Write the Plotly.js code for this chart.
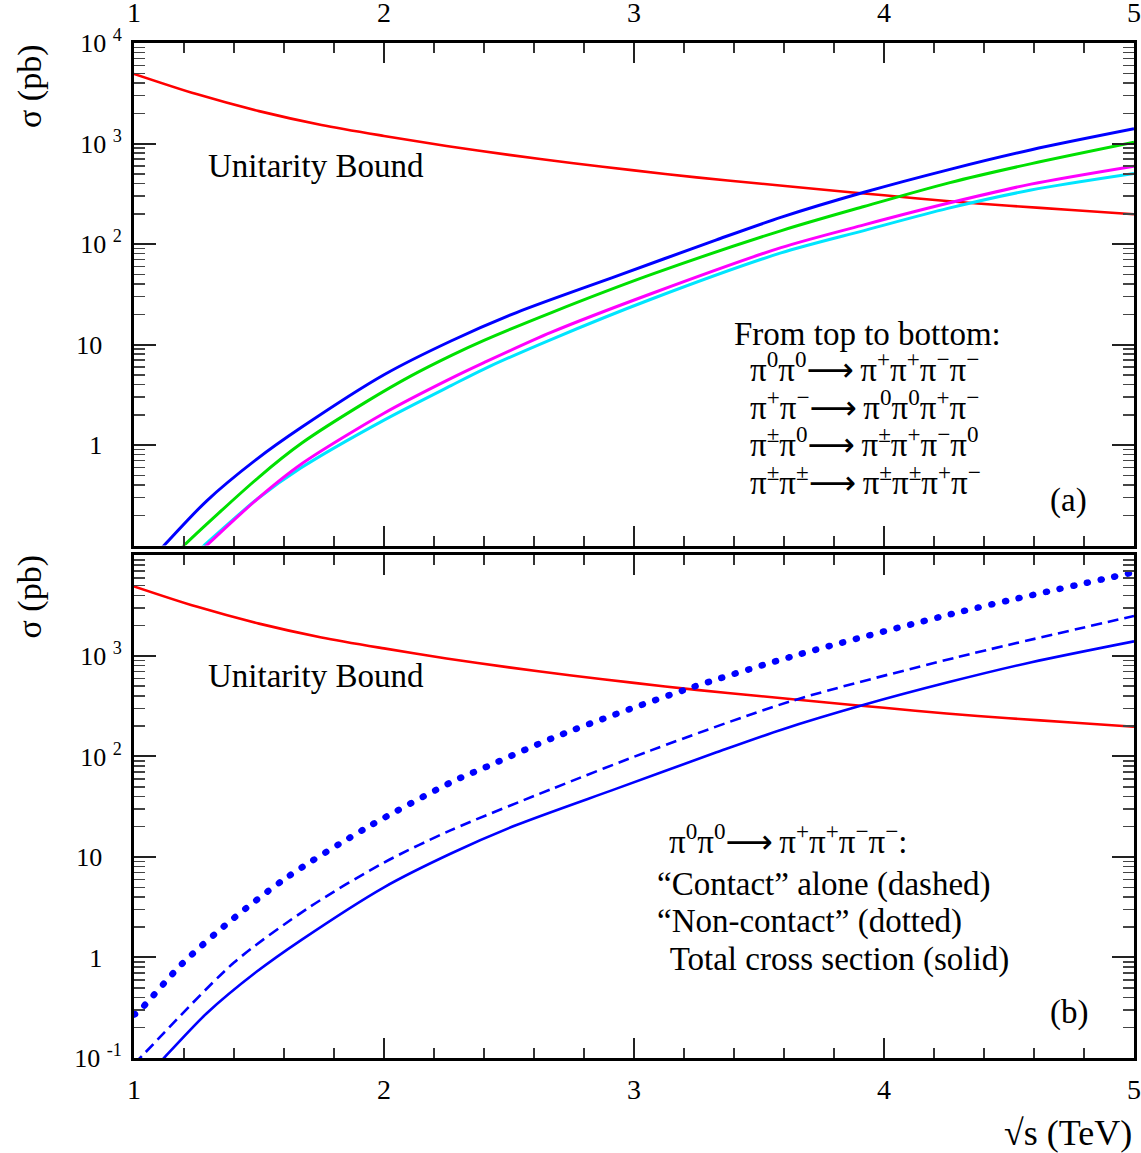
<!DOCTYPE html>
<html>
<head>
<meta charset="utf-8">
<script src="https://cdn.plot.ly/plotly-3.0.1.min.js"></script>
<style>
  html, body { margin: 0; padding: 0; background: #fff; }
  #chart { width: 1141px; height: 1153px; }
  .tracedotted path.js-line { stroke-linecap: round; }
</style>
</head>
<body>
<div id="chart"></div>
<script>
// ---------- DATA ----------
// Unitarity bound (red), same in both panels
const unitX = [1.0, 1.25, 1.5, 1.75, 2.0, 2.25, 2.5, 2.75, 3.0, 3.25, 3.5, 3.75, 4.0, 4.25, 4.5, 4.75, 5.0];
const unitY = [4930, 3100, 2100, 1530, 1190, 945, 770, 640, 540, 460, 400, 348, 305, 268, 240, 218, 198];

// pi0 pi0 -> pi+ pi+ pi- pi-  (blue, total cross section)
const pp00X = [1.08, 1.12, 1.29, 1.49, 1.67, 2.0, 2.27, 2.53, 2.93, 3.33, 3.59, 3.92, 4.26, 4.59, 5.0];
const pp00Y = [0.078, 0.1, 0.277, 0.72, 1.5, 5.0, 10.9, 20.8, 47.9, 110, 185, 327, 550, 867, 1400];

// pi+ pi- -> pi0 pi0 pi+ pi-  (green)
const pmX = [1.16, 1.2, 1.5, 1.67, 1.93, 2.11, 2.27, 2.4, 2.67, 3.07, 3.59, 3.92, 4.26, 4.59, 5.0];
const pmY = [0.078, 0.1, 0.48, 1.04, 2.7, 4.9, 7.8, 11.0, 20.8, 49.8, 136, 236, 406, 631, 1030];

// pi+- pi0 -> pi+- pi+ pi- pi0  (magenta)
const pm0X = [1.27, 1.29, 1.493, 1.667, 2.0, 2.268, 2.4, 2.668, 3.068, 3.588, 3.92, 4.255, 4.588, 5.0];
const pm0Y = [0.09, 0.1, 0.29, 0.64, 2.07, 4.6, 6.6, 13.2, 32, 92, 155, 254, 394, 595];

// pi+- pi+- -> pi+- pi+- pi+ pi-  (cyan)
const pmpmX = [1.26, 1.28, 1.493, 1.667, 2.0, 2.268, 2.4, 2.668, 3.068, 3.588, 3.92, 4.255, 4.588, 5.0];
const pmpmY = [0.09, 0.1, 0.29, 0.59, 1.77, 3.9, 5.7, 11.2, 28.2, 81.5, 136, 226, 344, 502];

// Panel (b): "Contact" alone (dashed)
const contactX = [1.0, 1.04, 1.4, 1.707, 2.0, 2.268, 2.668, 3.068, 3.628, 4.295, 5.0];
const contactY = [0.087, 0.11, 0.89, 3.23, 8.8, 18.5, 47.2, 115, 355, 975, 2500];

// Panel (b): "Non-contact" (dotted)
const nonContactX = [1.0, 1.016, 1.193, 1.397, 1.613, 1.94, 2.281, 2.384, 2.695, 3.221, 3.653, 4.308, 5.0];
const nonContactY = [0.27, 0.286, 0.87, 2.44, 6.3, 20.2, 57.4, 74, 160, 477, 1023, 2760, 6800];

// Tick labels
const xTickVals = [1, 2, 3, 4, 5];
const xTickText = ['1', '2', '3', '4', '5'];
const yTopTickVals = [1, 10, 100, 1000, 10000];
const yTopTickText = ['1\u2002\u2005', '10\u2002\u2005', '10 <sup>2</sup>', '10 <sup>3</sup>', '10 <sup>4</sup>'];
const yBotTickVals = [0.1, 1, 10, 100, 1000];
const yBotTickText = ['10 <sup>-1</sup>', '1\u2002\u2005', '10\u2002\u2005', '10 <sup>2</sup>', '10 <sup>3</sup>'];

// Texts
const yTitle = 'σ (pb)';
const xTitle = '√s (TeV)';
const unitLabel = 'Unitarity Bound';
const ARROW = '<span style="font-family:DejaVu Sans">⟶</span>\u2009';
const legendHeadA = 'From top to bottom:';
const legendLinesA = [
  'π<sup>0</sup>π<sup>0</sup>' + ARROW + 'π<sup>+</sup>π<sup>+</sup>π<sup>−</sup>π<sup>−</sup>',
  'π<sup>+</sup>π<sup>−</sup>' + ARROW + 'π<sup>0</sup>π<sup>0</sup>π<sup>+</sup>π<sup>−</sup>',
  'π<sup>±</sup>π<sup>0</sup>' + ARROW + 'π<sup>±</sup>π<sup>+</sup>π<sup>−</sup>π<sup>0</sup>',
  'π<sup>±</sup>π<sup>±</sup>' + ARROW + 'π<sup>±</sup>π<sup>±</sup>π<sup>+</sup>π<sup>−</sup>'
];
const legendLinesB = [
  'π<sup>0</sup>π<sup>0</sup>' + ARROW + 'π<sup>+</sup>π<sup>+</sup>π<sup>−</sup>π<sup>−</sup>:',
  '“Contact” alone (dashed)',
  '“Non-contact” (dotted)',
  ' Total cross section (solid)'
];

// ---------- helpers ----------
const minorY = [];
for (let e = -1; e < 4; e++) {
  for (let m = 2; m <= 9; m++) minorY.push(m * Math.pow(10, e));
}
const FONT = 'Liberation Serif, Times New Roman, serif';
const SMOOTH = 0.8;

function line(x, y, color, width, xa, ya, extra) {
  return Object.assign({
    type: 'scatter', mode: 'lines', x: x, y: y, xaxis: xa, yaxis: ya,
    line: Object.assign({color: color, width: width, shape: 'spline', smoothing: SMOOTH}, extra && extra.lineExtra || {}),
    hoverinfo: 'skip'
  }, extra && extra.uid ? {uid: extra.uid} : {});
}

const traces = [
  line(unitX, unitY, '#ff0000', 2.6, 'x', 'y'),
  line(pmpmX, pmpmY, '#00e5ff', 3, 'x', 'y'),
  line(pm0X, pm0Y, '#ff00ff', 3, 'x', 'y'),
  line(pmX, pmY, '#00e000', 3, 'x', 'y'),
  line(pp00X, pp00Y, '#0000ff', 3, 'x', 'y'),
  line(unitX, unitY, '#ff0000', 2.6, 'x2', 'y2'),
  line(pp00X, pp00Y, '#0000ff', 2.6, 'x2', 'y2'),
  line(contactX, contactY, '#0000ff', 2.6, 'x2', 'y2', {lineExtra: {dash: '11px,6px'}}),
  line(nonContactX, nonContactY, '#0000ff', 6.5, 'x2', 'y2', {uid: 'dotted', lineExtra: {dash: '1px,13px'}})
];

const xCommon = {
  range: [1, 5], tickmode: 'array', tickvals: xTickVals, ticktext: xTickText,
  ticks: 'inside', ticklen: 20, tickwidth: 2, tickcolor: '#222',
  minor: {tickmode: 'linear', tick0: 1, dtick: 0.2, ticks: 'inside', ticklen: 10, tickwidth: 1.5, tickcolor: '#333', showgrid: false},
  showline: true, linewidth: 3, linecolor: '#000', mirror: 'ticks',
  showgrid: false, zeroline: false,
  tickfont: {family: FONT, size: 28, color: '#000'}
};
const yCommon = {
  type: 'log', range: [-1, 4], tickmode: 'array',
  ticks: 'inside', ticklen: 22, tickwidth: 2, tickcolor: '#222',
  minor: {tickmode: 'array', tickvals: minorY, ticks: 'inside', ticklen: 11, tickwidth: 1.5, tickcolor: '#444', showgrid: false},
  showline: true, linewidth: 3, linecolor: '#000', mirror: 'ticks',
  showgrid: false, zeroline: false,
  ticklabelstandoff: 4,
  tickfont: {family: FONT, size: 26, color: '#000'}
};

function P(px) { return (px - 134) / 1000; }
function Q(py) { return (1058 - py) / 1016; }

const annotations = [];
function ann(text, px, py, opts) {
  annotations.push(Object.assign({
    text: text, xref: 'paper', yref: 'paper', x: P(px), y: Q(py),
    showarrow: false, xanchor: 'left', yanchor: 'middle',
    font: {family: FONT, size: 33, color: '#000'}
  }, opts || {}));
}
ann(yTitle, 30, 86, {xanchor: 'center', textangle: -90, font: {family: FONT, size: 34, color: '#000'}});
ann(yTitle, 30, 597, {xanchor: 'center', textangle: -90, font: {family: FONT, size: 34, color: '#000'}});
ann(unitLabel, 206, 165);
ann(unitLabel, 206, 676);
ann(legendHeadA, 732, 333);
legendLinesA.forEach(function (t, i) { ann(t, 748, [371, 409, 446, 484][i] - 4); });
ann('(a)', 1068, 500, {xanchor: 'center'});
[[667, 843 - 4], [655, 884], [655, 921], [660, 959]].forEach(function (p, i) { ann(legendLinesB[i], p[0], p[1]); });
ann('(b)', 1069, 1012, {xanchor: 'center'});
ann(xTitle, 1134, 1133, {xanchor: 'right', font: {family: FONT, size: 36, color: '#000'}});

const layout = {
  width: 1141, height: 1153,
  margin: {l: 134, r: 7, t: 43, b: 95, pad: 0},
  paper_bgcolor: '#fff', plot_bgcolor: '#fff',
  showlegend: false,
  font: {family: FONT, color: '#000'},
  xaxis: Object.assign({}, xCommon, {domain: [0, 1], anchor: 'y', side: 'top', ticklabelstandoff: 7}),
  yaxis: Object.assign({}, yCommon, {domain: [Q(545), 1], anchor: 'x', tickvals: yTopTickVals, ticktext: yTopTickText}),
  xaxis2: Object.assign({}, xCommon, {domain: [0, 1], anchor: 'y2', side: 'bottom', ticklabelstandoff: 4}),
  yaxis2: Object.assign({}, yCommon, {domain: [0, Q(555)], anchor: 'x2', tickvals: yBotTickVals, ticktext: yBotTickText}),
  annotations: annotations
};

Plotly.newPlot('chart', traces, layout, {displayModeBar: false, staticPlot: true});
</script>
</body>
</html>
